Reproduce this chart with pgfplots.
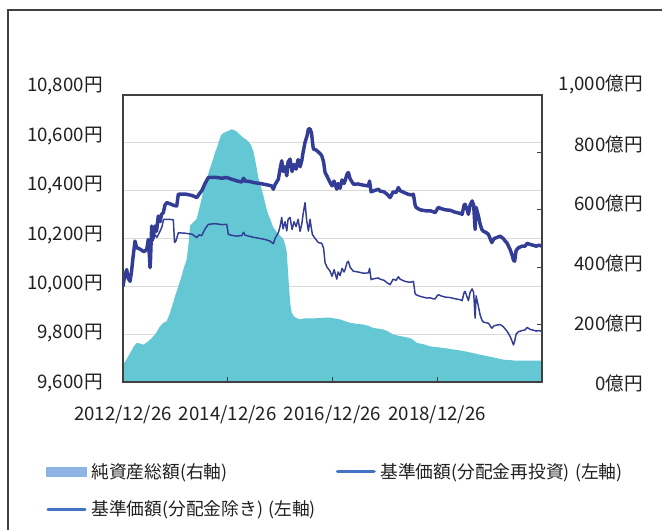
\documentclass[border=0pt]{standalone}
\usepackage{fontspec}
\setmainfont{Noto Sans CJK JP}
\usepackage{pgfplots}
\usepackage{pgfplotstable}
\pgfplotsset{compat=1.18}
\definecolor{areacol}{RGB}{99,199,212}
\definecolor{linecol}{RGB}{52,61,150}
\definecolor{legpatch}{RGB}{141,180,226}
\definecolor{legline}{RGB}{68,114,196}
\definecolor{gridcol}{RGB}{217,217,217}
\definecolor{framecol}{RGB}{64,64,64}
\definecolor{textcol}{RGB}{35,31,32}

% x = years since 2012/12/26
\pgfplotstableread{
x y
0 10000
0.029 10040
0.071 10070
0.096 10035
0.134 10021
0.162 10060
0.191 10120
0.229 10189
0.262 10161
0.306 10158
0.363 10150
0.401 10145
0.453 10154
0.483 10196
0.506 10120
0.516 10078
0.525 10110
0.548 10252
0.573 10200
0.611 10252
0.640 10230
0.674 10294
0.707 10270
0.735 10300
0.770 10308
0.802 10340
0.835 10350
0.898 10345
0.974 10338
1.026 10336
1.056 10385
1.184 10386
1.318 10380
1.408 10371
1.452 10385
1.503 10399
1.566 10430
1.629 10455
1.757 10456
1.891 10452
1.981 10455
2.044 10450
2.172 10441
2.267 10436
2.302 10452
2.330 10440
2.426 10438
2.489 10434
2.617 10430
2.712 10426
2.840 10420
2.871 10406
2.903 10425
2.966 10448
2.999 10490
3.031 10525
3.056 10480
3.094 10500
3.127 10462
3.152 10520
3.190 10532
3.228 10480
3.266 10510
3.305 10490
3.343 10530
3.381 10500
3.413 10525
3.438 10560
3.476 10602
3.515 10630
3.540 10658
3.572 10658
3.600 10640
3.620 10600
3.635 10574
3.686 10570
3.763 10555
3.795 10546
3.830 10520
3.858 10476
3.897 10460
3.954 10434
3.992 10420
4.030 10440
4.082 10406
4.107 10430
4.145 10410
4.183 10445
4.221 10430
4.240 10441
4.279 10470
4.303 10476
4.336 10450
4.399 10427
4.489 10428
4.584 10423
4.685 10420
4.708 10440
4.737 10395
4.794 10400
4.876 10406
4.909 10398
4.985 10395
5.042 10385
5.100 10371
5.157 10395
5.214 10392
5.258 10413
5.291 10400
5.367 10392
5.444 10385
5.501 10382
5.545 10385
5.577 10340
5.596 10330
5.673 10320
5.801 10315
5.864 10316
5.921 10312
5.959 10308
5.997 10322
6.022 10330
6.074 10325
6.150 10320
6.246 10318
6.341 10310
6.437 10305
6.475 10301
6.513 10340
6.532 10343
6.570 10320
6.595 10301
6.628 10340
6.666 10357
6.695 10340
6.723 10238
6.742 10330
6.786 10294
6.819 10260
6.851 10238
6.882 10230
6.933 10225
6.977 10217
7.042 10183
7.086 10200
7.138 10204
7.201 10210
7.258 10200
7.334 10180
7.392 10154
7.430 10130
7.455 10110
7.478 10105
7.506 10150
7.550 10161
7.621 10168
7.678 10168
7.716 10180
7.774 10175
7.831 10172
7.888 10168
7.946 10172
7.997 10168
}\navre

\pgfplotstableread{
x y
0 10000
0.029 10040
0.071 10070
0.096 10035
0.134 10021
0.162 10060
0.191 10120
0.229 10189
0.262 10161
0.306 10158
0.363 10150
0.401 10145
0.453 10154
0.483 10196
0.506 10120
0.516 10078
0.525 10110
0.548 10230
0.573 10190
0.611 10215
0.649 10205
0.707 10230
0.745 10250
0.774 10280
0.898 10280
0.961 10278
0.984 10183
1.012 10190
1.056 10224
1.184 10222
1.318 10218
1.408 10204
1.452 10215
1.503 10212
1.566 10240
1.629 10259
1.757 10262
1.891 10258
1.981 10259
2.011 10217
2.101 10212
2.172 10210
2.267 10212
2.302 10226
2.330 10214
2.489 10205
2.617 10200
2.712 10196
2.808 10189
2.871 10178
2.903 10200
2.966 10224
2.999 10250
3.031 10288
3.056 10240
3.094 10270
3.127 10232
3.152 10280
3.190 10288
3.228 10238
3.266 10270
3.305 10250
3.343 10280
3.381 10230
3.413 10260
3.438 10300
3.476 10350
3.505 10280
3.540 10231
3.572 10280
3.591 10250
3.616 10217
3.667 10200
3.731 10183
3.795 10180
3.830 10160
3.858 10098
3.897 10080
3.954 10063
3.992 10042
4.030 10070
4.082 10030
4.107 10060
4.145 10045
4.183 10075
4.221 10060
4.240 10070
4.279 10100
4.303 10105
4.336 10080
4.399 10063
4.489 10060
4.584 10055
4.685 10056
4.708 10075
4.737 10028
4.794 10032
4.876 10035
4.909 10030
4.985 10025
5.042 10015
5.100 10007
5.157 10030
5.214 10025
5.258 10040
5.291 10030
5.367 10022
5.444 10018
5.501 10017
5.545 10021
5.577 9970
5.596 9965
5.673 9958
5.801 9951
5.864 9952
5.921 9948
5.959 9947
5.997 9960
6.022 9965
6.074 9960
6.150 9955
6.246 9953
6.341 9948
6.437 9944
6.475 9940
6.513 9975
6.532 9979
6.570 9955
6.595 9940
6.628 9975
6.666 9989
6.695 9975
6.723 9867
6.742 9960
6.786 9916
6.819 9880
6.851 9860
6.882 9850
6.933 9848
6.977 9846
7.042 9825
7.086 9835
7.138 9838
7.201 9840
7.258 9832
7.334 9812
7.392 9790
7.430 9770
7.455 9755
7.478 9770
7.506 9800
7.550 9810
7.621 9815
7.678 9818
7.716 9828
7.774 9820
7.831 9817
7.888 9813
7.946 9815
7.997 9811
}\navex

\pgfplotstableread{
x y
0 60
0.038 70
0.134 100
0.210 125
0.262 136
0.325 134
0.388 130
0.458 138
0.516 147
0.611 165
0.707 194
0.764 205
0.835 212
0.898 241
0.955 275
0.993 299
1.051 330
1.121 370
1.165 400
1.217 428
1.251 480
1.280 545
1.337 555
1.408 569
1.471 615
1.528 660
1.599 709
1.662 745
1.725 779
1.757 800
1.790 814
1.834 840
1.872 860
1.916 867
1.967 872
2.025 876
2.063 880
2.107 879
2.159 874
2.197 868
2.235 861
2.292 852
2.349 845
2.393 838
2.445 825
2.489 803
2.521 775
2.554 744
2.579 715
2.617 690
2.680 650
2.731 610
2.770 585
2.808 569
2.865 540
2.936 522
2.999 510
3.062 498
3.094 480
3.127 452
3.152 380
3.177 311
3.199 265
3.222 241
3.266 228
3.323 222
3.381 218
3.476 222
3.572 222
3.667 222
3.763 223
3.858 224
3.954 224
4.049 221
4.145 218
4.240 212
4.336 206
4.450 203
4.590 200
4.680 196
4.781 188
4.871 186
4.972 183
5.062 176
5.163 165
5.291 160
5.386 157
5.482 153
5.539 147
5.610 136
5.673 134
5.768 130
5.864 124
6.055 120
6.246 115
6.437 110
6.628 103
6.819 95
7.010 88
7.138 83
7.201 80
7.296 77
7.392 76
7.519 74
7.774 74
7.997 74
}\assets

\pgfplotsset{
  common/.style={
    scale only axis, width=314.25pt, height=215.25pt,
    at={(92.25pt,111pt)}, anchor=south west,
    xmin=0, xmax=8,
    scaled x ticks=false, scaled y ticks=false,
    tick label style={font=\fontsize{14pt}{16pt}\selectfont, text=textcol},
    /pgf/number format/assume math mode=true,
  }
}

\begin{document}
\begin{tikzpicture}
\useasboundingbox (0,0) rectangle (496.5pt,397.5pt);
\draw[framecol, line width=1.5pt] (5.85pt,0pt) -- (5.85pt,390pt) -- (496.5pt,390pt);

% layer 1: left axis grid and labels
\begin{axis}[common,
  ymin=9600, ymax=10800,
  ytick={9600,9800,10000,10200,10400,10600,10800},
  yticklabel={\raisebox{\dimexpr 1.2pt*\ticknum-0.75pt\relax}[\height][\depth]{\pgfmathprintnumber[fixed,precision=0,1000 sep={,}]{\tick}円}},
  ymajorgrids, grid style={gridcol, line width=0.9pt},
  xtick={0,2,4,6},
  xticklabels={2012/12/26,2014/12/26,2016/12/26,2018/12/26},
  major tick length=0pt,
  axis line style={draw=none},
  yticklabel style={anchor=east, inner sep=0pt, xshift=-15pt},
  xticklabel style={anchor=center, inner sep=0pt, yshift=-24.75pt},
]
\addplot[draw=none, forget plot] coordinates {(0,9600)};
\end{axis}

% layer 2: net assets (right axis)
\begin{axis}[common,
  ymin=0, ymax=1000,
  ytick={0,200,400,600,800,1000},
  yticklabel={\raisebox{\dimexpr 1.75pt*\ticknum-0.75pt\relax}[\height][\depth]{\pgfmathprintnumber[fixed,precision=0,1000 sep={,}]{\tick}億円}},
  ytick pos=right, xtick=\empty,
  axis line style={draw=none},
  tick align=inside, major tick length=3.75pt,
  tick style={framecol, line width=0.9pt},
  yticklabel style={anchor=east, inner sep=0pt, xshift=75.75pt},
]
\addplot[fill=areacol, draw=none, forget plot] table[x=x, y=y] {\assets} \closedcycle;
\end{axis}

% layer 3: NAV lines, frame, legend
\begin{axis}[common,
  ymin=9600, ymax=10800,
  ytick=\empty,
  xtick={2,4,6}, xticklabels={,,},
  xtick pos=left,
  tick align=inside, major tick length=3.75pt,
  tick style={framecol, line width=0.9pt},
  axis line style={framecol, line width=1.3pt},
  legend columns=2,
  legend cell align=left,
  legend style={at={(-0.1838,-0.282)}, anchor=north west, draw=none, fill=none,
    inner sep=0pt, font=\fontsize{13.3pt}{15pt}\selectfont, text=textcol,
    nodes={inner sep=0pt},
    row sep=15.5pt,
    /tikz/every odd column/.append style={column sep=3.5pt},
    /tikz/every even column/.append style={column sep=15pt}},
]
\addlegendimage{legend image code/.code={\fill[legpatch] (0pt,-3.4pt) rectangle (30pt,3.4pt);}}
\addlegendentry{純資産総額(右軸)}
\addlegendimage{legend image code/.code={\draw[legline, line width=2.6pt, line cap=round] (1.3pt,0pt) -- (28.7pt,0pt);}}
\addlegendentry{基準価額(分配金再投資)\hspace{0.3em}(左軸)}
\addlegendimage{legend image code/.code={\draw[legline, line width=1.9pt, line cap=round] (1pt,0pt) -- (29pt,0pt);}}
\addlegendentry{基準価額(分配金除き)\hspace{0.3em}(左軸)}
\addplot[linecol, line width=1.1pt, line join=round, forget plot] table[x=x, y=y] {\navex};
\addplot[linecol, line width=2.6pt, line join=round, forget plot] table[x=x, y=y] {\navre};
\end{axis}
\end{tikzpicture}
\end{document}
